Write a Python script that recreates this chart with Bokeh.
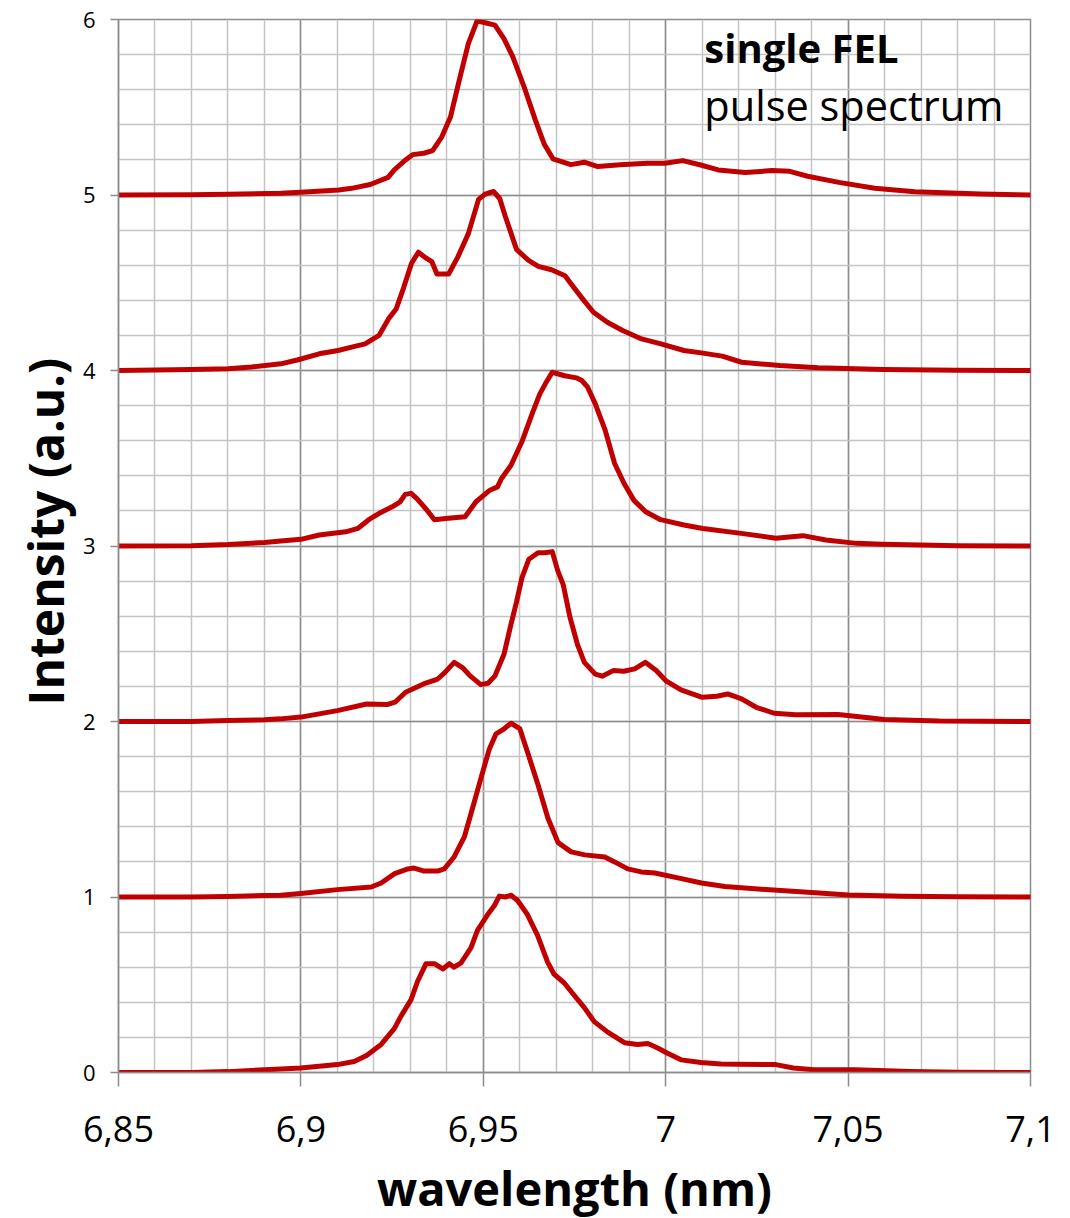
from bokeh.plotting import figure
from bokeh.models import FixedTicker, CustomJSTickFormatter, Label, Range1d, Title
from bokeh.embed import file_html
from bokeh.resources import INLINE

# ---------------- data ----------------
x_ticks = [6.85, 6.90, 6.95, 7.00, 7.05, 7.10]
x_tick_labels = ["6,85", "6,9", "6,95", "7", "7,05", "7,1"]
y_ticks = [0, 1, 2, 3, 4, 5, 6]
x_minor = [round(6.85 + 0.01 * i, 4) for i in range(26)]
y_minor = [round(0.2 * i, 4) for i in range(31)]

offsets = [0, 1, 2, 3, 4, 5]

wl_0 = [6.85, 6.87, 6.88, 6.89, 6.8945, 6.90, 6.905, 6.91, 6.9146, 6.918, 6.922, 6.9256, 6.9274,
        6.9302, 6.932, 6.9343, 6.9366, 6.9389, 6.9407, 6.942, 6.9439, 6.9466, 6.9484, 6.9512,
        6.953, 6.9544, 6.956, 6.9576, 6.9594, 6.9621, 6.9649, 6.9676, 6.9694, 6.9722, 6.9749,
        6.9777, 6.9804, 6.9841, 6.9887, 6.9923, 6.9951, 6.9978, 7.0005, 7.0042, 7.0097, 7.0151,
        7.0198, 7.0302, 7.035, 7.0406, 7.052, 7.067, 7.08, 7.10]
in_0 = [0.0, 0.0, 0.005, 0.015, 0.02, 0.025, 0.035, 0.045, 0.063, 0.097, 0.16, 0.25, 0.32,
        0.415, 0.52, 0.62, 0.62, 0.59, 0.62, 0.60, 0.625, 0.71, 0.81, 0.90,
        0.95, 1.005, 1.0, 1.01, 0.98, 0.90, 0.78, 0.63, 0.56, 0.51, 0.44,
        0.37, 0.29, 0.23, 0.17, 0.16, 0.165, 0.14, 0.11, 0.072, 0.057, 0.048,
        0.047, 0.045, 0.026, 0.016, 0.016, 0.006, 0.002, 0.0]

wl_1 = [6.85, 6.87, 6.88, 6.89, 6.8945, 6.90, 6.91, 6.9193, 6.922, 6.9257, 6.9293, 6.931, 6.9338,
        6.9375, 6.9393, 6.942, 6.9448, 6.9471, 6.9494, 6.9516, 6.9535, 6.9558, 6.9576, 6.960,
        6.9622, 6.965, 6.9677, 6.9705, 6.9741, 6.9778, 6.9833, 6.986, 6.9896, 6.9933, 6.997,
        7.0043, 7.0098, 7.0162, 7.0262, 7.04, 7.05, 7.065, 7.08, 7.10]
in_1 = [0.0, 0.0, 0.003, 0.008, 0.01, 0.02, 0.042, 0.057, 0.08, 0.133, 0.16, 0.165, 0.148,
        0.148, 0.16, 0.228, 0.342, 0.51, 0.68, 0.84, 0.93, 0.96, 0.99, 0.96,
        0.82, 0.64, 0.45, 0.31, 0.257, 0.24, 0.228, 0.20, 0.16, 0.143, 0.137,
        0.105, 0.08, 0.06, 0.044, 0.025, 0.012, 0.004, 0.001, 0.0]

wl_2 = [6.85, 6.87, 6.88, 6.89, 6.8944, 6.90, 6.91, 6.918, 6.9238, 6.9258, 6.9287, 6.9336, 6.9375,
        6.9395, 6.942, 6.9444, 6.9464, 6.9493, 6.9513, 6.9532, 6.9557, 6.9576, 6.9591, 6.9606,
        6.9625, 6.965, 6.967, 6.9689, 6.9704, 6.9719, 6.9738, 6.9758, 6.9777, 6.9807, 6.9826,
        6.9856, 6.9885, 6.9915, 6.9944, 6.9974, 7.0002, 7.0042, 7.01, 7.014, 7.017, 7.0208,
        7.0248, 7.0297, 7.0356, 7.0473, 7.06, 7.075, 7.10]
in_2 = [0.0, 0.0, 0.005, 0.01, 0.015, 0.025, 0.062, 0.10, 0.097, 0.11, 0.167, 0.214, 0.242,
        0.28, 0.337, 0.305, 0.26, 0.21, 0.218, 0.26, 0.385, 0.555, 0.68, 0.82,
        0.925, 0.962, 0.962, 0.968, 0.86, 0.78, 0.59, 0.44, 0.337, 0.27, 0.258,
        0.29, 0.286, 0.30, 0.337, 0.29, 0.23, 0.18, 0.138, 0.144, 0.157, 0.129,
        0.081, 0.047, 0.038, 0.04, 0.012, 0.003, 0.0]

wl_3 = [6.85, 6.87, 6.88, 6.89, 6.8945, 6.90, 6.905, 6.9123, 6.9156, 6.9186, 6.9218, 6.925, 6.9272,
        6.9286, 6.9302, 6.9318, 6.9344, 6.9366, 6.9397, 6.945, 6.948, 6.9518, 6.9539, 6.955,
        6.9576, 6.9607, 6.9634, 6.9655, 6.967, 6.9689, 6.9723, 6.9755, 6.977, 6.9786, 6.9807,
        6.9834, 6.986, 6.9886, 6.9913, 6.9945, 6.9986, 7.005, 7.0102, 7.0207, 7.0302, 7.0376,
        7.0439, 7.0523, 7.0594, 7.08, 7.10]
in_3 = [0.0, 0.002, 0.008, 0.02, 0.028, 0.038, 0.0625, 0.081, 0.10, 0.15, 0.19, 0.223, 0.252,
        0.294, 0.30, 0.27, 0.208, 0.15, 0.157, 0.167, 0.252, 0.318, 0.337, 0.385,
        0.46, 0.60, 0.754, 0.867, 0.924, 0.99, 0.97, 0.958, 0.943, 0.905, 0.81,
        0.66, 0.47, 0.356, 0.26, 0.195, 0.15, 0.12, 0.10, 0.072, 0.044, 0.059,
        0.034, 0.015, 0.01, 0.002, 0.0]

wl_4 = [6.85, 6.87, 6.88, 6.8865, 6.8945, 6.899, 6.905, 6.9102, 6.9139, 6.9176, 6.9214, 6.924,
        6.9261, 6.9282, 6.9303, 6.9322, 6.934, 6.9359, 6.9373, 6.9405, 6.943, 6.9459, 6.9487,
        6.9505, 6.9528, 6.9545, 6.956, 6.9591, 6.9624, 6.9651, 6.9687, 6.9724, 6.9744, 6.9776,
        6.9802, 6.984, 6.9882, 6.9934, 6.9987, 7.005, 7.0102, 7.0155, 7.0208, 7.0313, 7.0418,
        7.0595, 7.08, 7.10]
in_4 = [0.0, 0.005, 0.01, 0.02, 0.038, 0.06, 0.095, 0.114, 0.133, 0.152, 0.20, 0.294,
        0.35, 0.474, 0.61, 0.674, 0.645, 0.62, 0.55, 0.55, 0.646, 0.78, 0.975,
        1.005, 1.02, 0.98, 0.88, 0.69, 0.627, 0.593, 0.574, 0.54, 0.484, 0.398,
        0.332, 0.275, 0.228, 0.18, 0.152, 0.114, 0.099, 0.082, 0.047, 0.028, 0.015,
        0.006, 0.002, 0.0]

wl_5 = [6.85, 6.87, 6.88, 6.8945, 6.90, 6.9104, 6.9139, 6.919, 6.9239, 6.9256, 6.9287, 6.9306,
        6.9337, 6.9361, 6.9386, 6.941, 6.9434, 6.9459, 6.9483, 6.9508, 6.9532, 6.9557, 6.9581,
        6.9612, 6.9643, 6.9667, 6.9691, 6.974, 6.9777, 6.9814, 6.9875, 6.9949, 6.9998, 7.0047,
        7.0096, 7.0144, 7.0218, 7.0291, 7.034, 7.0389, 7.0475, 7.0573, 7.0683, 7.0864, 7.10]
in_5 = [0.0, 0.002, 0.004, 0.01, 0.015, 0.029, 0.038, 0.06, 0.10, 0.143, 0.20, 0.23,
        0.238, 0.253, 0.33, 0.444, 0.653, 0.863, 0.992, 0.98, 0.968, 0.89, 0.787,
        0.615, 0.425, 0.29, 0.206, 0.173, 0.187, 0.162, 0.173, 0.181, 0.181, 0.196,
        0.171, 0.143, 0.128, 0.139, 0.135, 0.107, 0.072, 0.038, 0.019, 0.006, 0.0]

wavelengths = [wl_0, wl_1, wl_2, wl_3, wl_4, wl_5]
intensities = [in_0, in_1, in_2, in_3, in_4, in_5]

# ---------------- figure ----------------
FONT = "Open Sans"
MAJOR = "#8C8C8C"
MINOR = "#C4C4C4"
RED = "#C00000"

p = figure(frame_width=912, frame_height=1053,
           x_range=Range1d(6.85, 7.10), y_range=Range1d(0, 6),
           output_backend="svg", toolbar_location=None,
           min_border_left=118, min_border_top=19, min_border_right=32,
           min_border_bottom=20)
p.background_fill_color = "white"
p.border_fill_color = "white"
p.outline_line_color = MAJOR
p.outline_line_width = 1.5

p.xaxis.ticker = FixedTicker(ticks=x_ticks, minor_ticks=x_minor)
p.yaxis.ticker = FixedTicker(ticks=y_ticks, minor_ticks=y_minor)
p.xaxis.formatter = CustomJSTickFormatter(
    args=dict(vals=x_ticks, labs=x_tick_labels),
    code="for (let i = 0; i < vals.length; i++) { if (Math.abs(vals[i] - tick) < 1e-6) return labs[i]; } return '';")

for g in (p.xgrid, p.ygrid):
    g.grid_line_color = MAJOR
    g.grid_line_width = 1.5
    g.minor_grid_line_color = MINOR
    g.minor_grid_line_width = 1.5

for ax in (p.xaxis, p.yaxis):
    ax.axis_line_color = MAJOR
    ax.axis_line_width = 1.5
    ax.major_tick_line_color = MAJOR
    ax.major_tick_line_width = 1.5
    ax.minor_tick_line_color = None
    ax.major_tick_in = 0
    ax.major_label_text_font = FONT
    ax.major_label_text_color = "black"
    ax.axis_label_text_font = FONT
    ax.axis_label_text_font_style = "bold"
    ax.axis_label_text_color = "black"

p.xaxis.axis_label_text_font_size = "47px"
p.xaxis.major_tick_out = 14
p.yaxis.major_tick_out = 8
p.xaxis.major_label_text_font_size = "36px"
p.yaxis.major_label_text_font_size = "22px"
p.xaxis.major_label_standoff = 29
p.yaxis.major_label_standoff = 15
p.xaxis.axis_label = "wavelength (nm)"
p.xaxis.axis_label_standoff = 11

# y-axis title, placed slightly above the frame centre as in the original
p.add_layout(Title(text="Intensity (a.u.)", align="left", offset=367, standoff=4,
                   text_font=FONT, text_font_style="bold", text_font_size="48px",
                   text_color="black"), "left")

for off, wl, inten in zip(offsets, wavelengths, intensities):
    p.line(wl, [off + v for v in inten], line_color=RED, line_width=5,
           line_join="round", line_cap="round")

p.add_layout(Label(x=7.0106, y=5.838, text="single FEL", text_font=FONT,
                   text_font_style="bold", text_font_size="40px", text_color="black",
                   text_baseline="alphabetic"))
p.add_layout(Label(x=7.0106, y=5.513, text="pulse spectrum", text_font=FONT,
                   text_font_size="41.5px", text_color="black",
                   text_baseline="alphabetic"))

open("out.html", "w").write(file_html(p, INLINE))
